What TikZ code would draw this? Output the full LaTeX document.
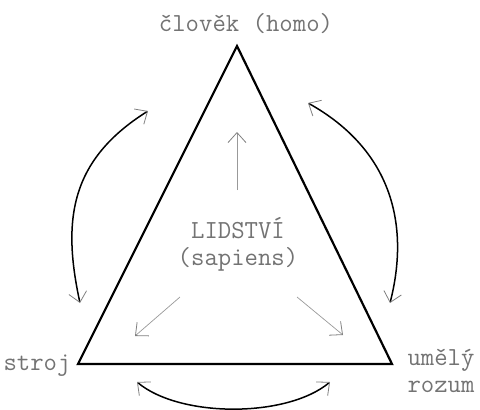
\documentclass[tikz,border=0pt]{standalone}
\usepackage{fontspec}
\usetikzlibrary{arrows.meta,positioning}

\tikzset{
  barb/.tip={Straight Barb[length=10pt,width=18pt,color=black!50,line width=0.8pt]},
  lbl/.style={text=black!55, font=\ttfamily\fontsize{26}{27}\selectfont, inner sep=0pt},
  side/.style={line width=2.2pt},
  swing/.style={line width=1.5pt, barb-barb},
  hint/.style={line width=0.7pt, black!40, -barb}
}

\begin{document}
\begin{tikzpicture}[x=1pt, y=-1pt]
  \useasboundingbox (0,0) rectangle (480,410);

  % corners of the triangle
  \coordinate (top)   at (237,46);
  \coordinate (left)  at (78,364);
  \coordinate (right) at (392,364);
  \draw[side] (top) -- (left) -- (right) -- cycle;

  \node (homo)  [lbl] at (246,24) {člověk (homo)};
  \node (stroj) [lbl] at (37,366) {stroj};
  \node (ai)    [lbl, align=left] at (441,371) {umělý\\rozum};
  \node (lids)  [lbl, align=center] at (238,244) {LIDSTVÍ\\(sapiens)};

  % inner arrows
  \coordinate (lids-n)  at (237,190);
  \coordinate (lids-sw) at (180,297);
  \coordinate (lids-se) at (297,297);
  \coordinate (to-homo)  at (237,132);
  \coordinate (to-stroj) at (135,336);
  \coordinate (to-ai)    at (343,335);
  \draw[hint] (lids-n)  -- (to-homo);
  \draw[hint] (lids-sw) -- (to-stroj);
  \draw[hint] (lids-se) -- (to-ai);

  % outer swings
  \coordinate (l-top) at (148,111);
  \coordinate (l-bot) at (80,303);
  \coordinate (r-top) at (308,103);
  \coordinate (r-bot) at (390,303);
  \coordinate (b-left)  at (137,382);
  \coordinate (b-right) at (330,382);
  \draw[swing] (l-top) .. controls (70,160) and (62,220) .. (l-bot);
  \draw[swing] (r-top) .. controls (392,150) and (410,225) .. (r-bot);
  \draw[swing] (b-left) .. controls (180,418) and (287,418) .. (b-right);
\end{tikzpicture}
\end{document}
